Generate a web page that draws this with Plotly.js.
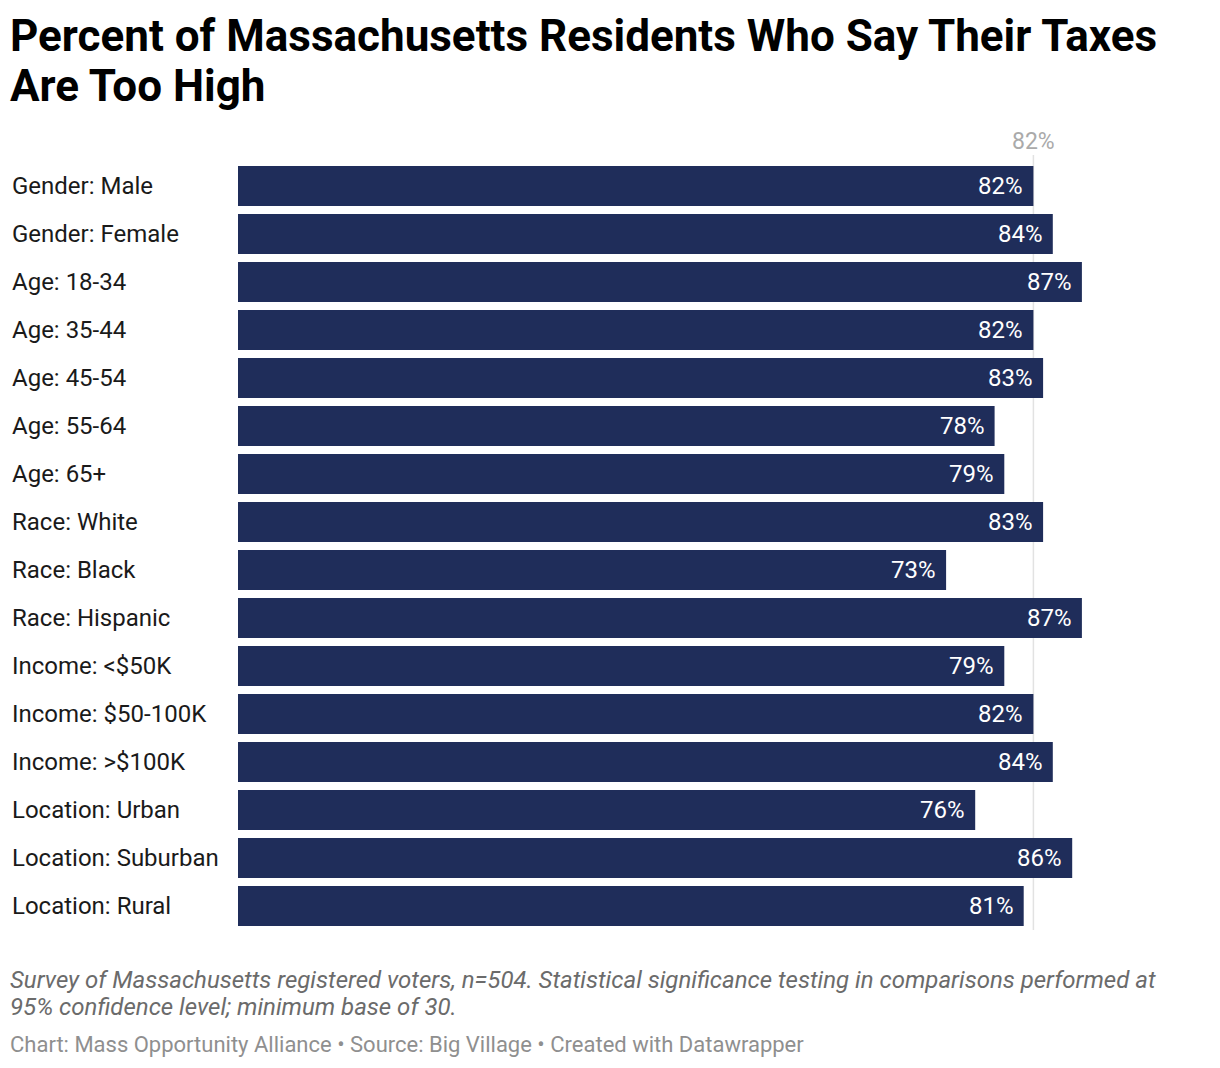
<!DOCTYPE html>
<html>
<head>
<meta charset="utf-8">
<script src="https://cdn.plot.ly/plotly-3.0.1.min.js"></script>
<style>
  body { margin: 0; background: #fff; }
  #chart { width: 1220px; height: 1068px; }
</style>
</head>
<body>
<div id="chart"></div>
<script>
let groups = [
    'Gender: Male', 'Gender: Female', 'Age: 18-34', 'Age: 35-44', 'Age: 45-54',
    'Age: 55-64', 'Age: 65+', 'Race: White', 'Race: Black', 'Race: Hispanic',
    'Income: <$50K', 'Income: $50-100K', 'Income: >$100K', 'Location: Urban',
    'Location: Suburban', 'Location: Rural'
];
let shares = [82, 84, 87, 82, 83, 78, 79, 83, 73, 87, 79, 82, 84, 76, 86, 81];
let refValue = 82;

let titleLines = ['Percent of Massachusetts Residents Who Say Their Taxes', 'Are Too High'];
let noteLines = [
    'Survey of Massachusetts registered voters, n=504. Statistical significance testing in comparisons performed at',
    '95% confidence level; minimum base of 30.'
];
let credits = 'Chart: Mass Opportunity Alliance • Source: Big Village • Created with Datawrapper';

let plotLeft = 238, plotTop = 162, plotBottom = 930, plotW = 970;
let plotH = plotBottom - plotTop;
// pixel -> paper helpers for the text blocks outside the plot
let px = (x) => (x - plotLeft) / plotW;
let py = (y) => (plotBottom - y) / plotH;

let trace = {
    type: 'bar',
    orientation: 'h',
    x: shares,
    y: groups,
    marker: { color: '#1f2d5a' },
    hoverinfo: 'none'
};

let annotations = [];

// title, one annotation per line
let titleY = [36, 86];
for (let i = 0; i < titleLines.length; i++) {
    annotations.push({
        xref: 'paper', yref: 'paper',
        x: px(8), y: py(titleY[i]),
        text: '<b>' + titleLines[i] + '</b>',
        showarrow: false, xanchor: 'left', yanchor: 'middle',
        font: { family: 'Roboto', size: 44, color: '#000000' }
    });
}

// category labels, left aligned
for (let i = 0; i < groups.length; i++) {
    annotations.push({
        xref: 'paper', yref: 'y',
        x: px(10), y: groups[i],
        text: groups[i].replace('<', '&lt;').replace('>', '&gt;'),
        showarrow: false, xanchor: 'left', yanchor: 'middle',
        font: { family: 'Roboto', size: 24, color: '#1a1a1a' }
    });
}

// value labels inside bar ends
for (let i = 0; i < groups.length; i++) {
    annotations.push({
        xref: 'x', yref: 'y',
        x: shares[i], y: groups[i],
        text: shares[i] + '%',
        showarrow: false, xanchor: 'right', yanchor: 'middle', xshift: -8,
        font: { family: 'Roboto', size: 24, color: '#ffffff' }
    });
}

// reference line label
annotations.push({
    xref: 'x', yref: 'paper',
    x: refValue, y: py(142),
    text: refValue + '%',
    showarrow: false, xanchor: 'center', yanchor: 'middle',
    font: { family: 'Roboto', size: 23, color: '#aaaaaa' }
});

// notes and credits
let noteY = [980, 1007];
for (let i = 0; i < noteLines.length; i++) {
    annotations.push({
        xref: 'paper', yref: 'paper',
        x: px(8), y: py(noteY[i]),
        text: noteLines[i],
        showarrow: false, xanchor: 'left', yanchor: 'middle',
        font: { family: 'Roboto', size: 24, color: '#6b6b6b', style: 'italic' }
    });
}
annotations.push({
    xref: 'paper', yref: 'paper',
    x: px(8), y: py(1044),
    text: credits,
    showarrow: false, xanchor: 'left', yanchor: 'middle',
    font: { family: 'Roboto', size: 22, color: '#8f8f8f' }
});

let layout = {
    width: 1220,
    height: 1068,
    paper_bgcolor: '#ffffff',
    plot_bgcolor: '#ffffff',
    margin: { l: plotLeft, r: 1220 - plotLeft - plotW, t: plotTop, b: 1068 - plotBottom },
    showlegend: false,
    bargap: 0.1667,
    xaxis: {
        range: [0, 100],
        showgrid: false, zeroline: false, showline: false,
        showticklabels: false, ticks: '', fixedrange: true
    },
    yaxis: {
        autorange: 'reversed',
        showgrid: false, zeroline: false, showline: false,
        showticklabels: false, ticks: '', fixedrange: true
    },
    shapes: [{
        type: 'line', layer: 'below',
        xref: 'x', yref: 'paper',
        x0: refValue, x1: refValue, y0: 0, y1: py(155),
        line: { color: '#e2e2e2', width: 1.5 }
    }],
    annotations: annotations
};

Plotly.newPlot('chart', [trace], layout, { displayModeBar: false, staticPlot: true });
</script>
</body>
</html>
